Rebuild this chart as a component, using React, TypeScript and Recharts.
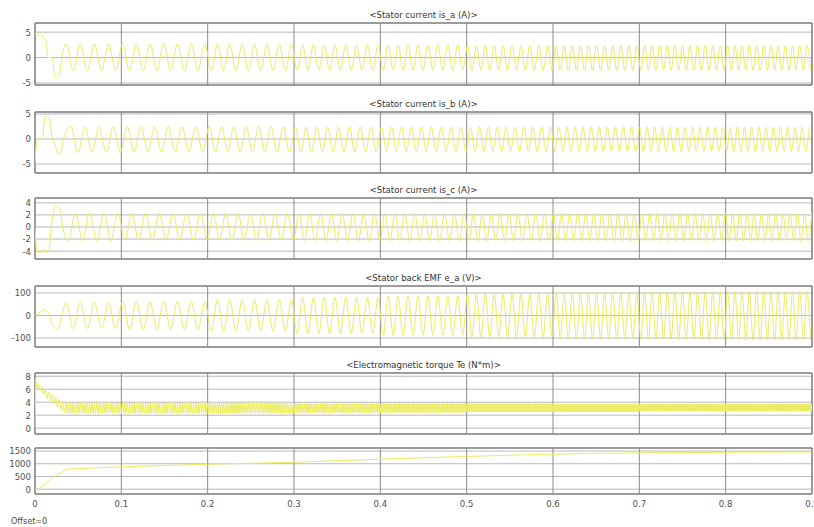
import { LineChart, Line, XAxis, YAxis, CartesianGrid, ReferenceLine, ReferenceArea } from 'recharts'

type Pt = { t: number; v: number }

// shared time axis
const timeTicks = [0, 0.1, 0.2, 0.3, 0.4, 0.5, 0.6, 0.7, 0.8, 0.9]

// after start-up the traces are regular; electrical frequency read per window
const windowEdges = [0.036, 0.1, 0.2, 0.3, 0.4, 0.5, 0.6, 0.7, 0.8, 0.9]
const elecHz = [61, 63, 70, 80, 87, 97, 107, 114, 120]

// peak heights per window (positive / negative)
const isaPos = [2.7, 2.7, 2.6, 2.5, 2.5, 2.4, 2.4, 2.4, 2.4]
const isaNeg = [2.6, 2.6, 2.6, 2.5, 2.5, 2.5, 2.5, 2.5, 2.5]
const isbPos = [2.5, 2.5, 2.5, 2.4, 2.4, 2.4, 2.4, 2.4, 2.4]
const isbNeg = [2.7, 2.6, 2.6, 2.6, 2.5, 2.5, 2.5, 2.5, 2.5]
const iscPos = [2.4, 2.3, 2.3, 2.3, 2.3, 2.3, 2.3, 2.3, 2.3]
const iscNeg = [2.3, 2.2, 2.2, 2.3, 2.3, 2.3, 2.3, 2.3, 2.3]
const emfAmp = [58, 62, 70, 80, 88, 96, 102, 106, 108]
const teHi = [3.9, 3.9, 3.9, 3.8, 3.8, 3.8, 3.7, 3.7, 3.7]
const teLo = [2.3, 2.3, 2.3, 2.4, 2.4, 2.5, 2.5, 2.6, 2.6]

// start-up transients (t < 0.036)
const isaStartT = [0, 0.002, 0.004, 0.006, 0.01, 0.013, 0.015, 0.02, 0.023, 0.025, 0.028, 0.031]
const isaStartV = [4.6, 5, 4.3, 4.6, 3.8, 3.2, 0, 0, -3.8, -4, -3.6, 0]
const isbStartT = [0, 0.002, 0.006, 0.009, 0.011, 0.014, 0.017, 0.02, 0.023, 0.027, 0.03, 0.033]
const isbStartV = [-5, -0.5, 0, 0.3, 4.2, 4.5, 4, 0, -1, -3, -2.8, 0]
const iscStartT = [0, 0.002, 0.006, 0.009, 0.013, 0.016, 0.019, 0.023, 0.026, 0.029, 0.032]
const iscStartV = [0, -4, -4.3, -3.7, -4.2, -4, 0, 3.4, 3.3, 3.0, 0]
const emfStartT = [0, 0.006, 0.012, 0.016, 0.02, 0.023, 0.027, 0.031]
const emfStartV = [0, 15, 25, 10, -40, -55, -57, 0]
const teStartT = [0, 0.0008, 0.002, 0.004, 0.006, 0.008, 0.01, 0.012, 0.014, 0.016, 0.018, 0.02, 0.022, 0.024, 0.026, 0.028, 0.03, 0.032, 0.034]
const teStartV = [0, 7.6, 6, 6.8, 5.8, 6.4, 5.2, 6.0, 4.6, 5.6, 4.2, 5.2, 3.8, 4.8, 3.2, 4.4, 2.7, 4.0, 2.4]

// rotor speed
const speedT = [0, 0.003, 0.02, 0.037, 0.1, 0.2, 0.3, 0.4, 0.5, 0.6, 0.7, 0.8, 0.9]
const speedV = [0, -40, 450, 790, 880, 980, 1060, 1180, 1290, 1380, 1430, 1450, 1460]

const zip = (ts: number[], vs: number[]): Pt[] => ts.map((t, i) => ({ t, v: vs[i] }))

// peaks/troughs of a trace; offset and step are in electrical cycles
function extremes(offset: number, step: number, hi: number[], lo: number[]): Pt[] {
  const out: Pt[] = []
  let th0 = 0
  for (let w = 0; w < elecHz.length; w++) {
    const t0 = windowEdges[w]
    const t1 = windowEdges[w + 1]
    const th1 = th0 + elecHz[w] * (t1 - t0)
    let k = Math.ceil((th0 - offset) / step - 1e-9)
    while (offset + k * step < th1) {
      const t = t0 + (offset + k * step - th0) / elecHz[w]
      const even = ((k % 2) + 2) % 2 === 0
      out.push({ t, v: even ? hi[w] : -lo[w] })
      k++
    }
    th0 = th1
  }
  return out
}

const isA = [...zip(isaStartT, isaStartV), ...extremes(0, 0.5, isaPos, isaNeg)]
const isB = [...zip(isbStartT, isbStartV), ...extremes(1 / 3, 0.5, isbPos, isbNeg)]
const isC = [...zip(iscStartT, iscStartV), ...extremes(2 / 3, 0.5, iscPos, iscNeg)]
const emfA = [...zip(emfStartT, emfStartV), ...extremes(0, 0.5, emfAmp, emfAmp)]
const teRaw = extremes(0, 1 / 12, teHi, teLo).map((p) => ({ t: p.t, v: p.v < 0 ? -p.v : p.v }))
const torque = [...zip(teStartT, teStartV), ...teRaw]
const speed = zip(speedT, speedV)

const FONT = '"DejaVu Sans Condensed", "DejaVu Sans", sans-serif'
const TRACE = '#ecec5e'
const PAD = 7

interface ScopeProps {
  top: number
  height: number
  title?: string
  domain: [number, number]
  ticks: number[]
  data: Pt[]
  smooth?: boolean
  showTime?: boolean
}

function Scope({ top, height, title, domain, ticks, data, smooth, showTime }: ScopeProps) {
  const h = height + PAD + (showTime ? 20 : PAD)
  const tickStyle = { fontSize: 9.5, fill: '#505050', fontFamily: FONT }
  return (
    <>
      {title && (
        <div
          style={{
            position: 'absolute',
            left: 35,
            width: 777,
            top: top - 14,
            textAlign: 'center',
            fontFamily: FONT,
            fontSize: 9.5,
            lineHeight: '12px',
            color: '#333',
          }}
        >
          {title}
        </div>
      )}
      <div style={{ position: 'absolute', left: 0, top: top - PAD, width: 814, height: h }}>
        <LineChart width={814} height={h} margin={{ top: PAD, right: 2, bottom: showTime ? 0 : PAD, left: 5 }}>
          <XAxis
            dataKey="t"
            type="number"
            domain={[0, 0.9]}
            ticks={timeTicks}
            interval={0}
            hide={!showTime}
            height={20}
            axisLine={false}
            tickLine={false}
            tickSize={0}
            tickMargin={6}
            tick={tickStyle}
            allowDataOverflow
          />
          <YAxis
            type="number"
            domain={domain}
            ticks={ticks}
            interval={0}
            width={30}
            axisLine={false}
            tickLine={false}
            tickSize={0}
            tickMargin={4}
            tick={tickStyle}
            allowDataOverflow
          />
          <CartesianGrid vertical={false} stroke="#b8b8b8" />
          {timeTicks.map((t) => (
            <ReferenceLine key={t} x={t} stroke="#8a8a8a" />
          ))}
          <Line
            data={data}
            dataKey="v"
            type={smooth ? 'monotone' : 'linear'}
            stroke={TRACE}
            strokeWidth={1}
            dot={false}
            activeDot={false}
            isAnimationActive={false}
          />
          <ReferenceArea x1={0} x2={0.9} y1={domain[0]} y2={domain[1]} fill="none" stroke="#5c5c5c" />
        </LineChart>
      </div>
    </>
  )
}

export default function App() {
  return (
    <div style={{ position: 'absolute', left: 0, top: 0, width: 814, height: 527, background: '#fff' }}>
      <Scope top={23} height={62} title="<Stator current is_a (A)>" domain={[-5.4, 6.8]} ticks={[-5, 0, 5]} data={isA} smooth />
      <Scope top={112} height={61} title="<Stator current is_b (A)>" domain={[-6.8, 5.4]} ticks={[-5, 0, 5]} data={isB} smooth />
      <Scope top={198} height={61} title="<Stator current is_c (A)>" domain={[-5.3, 4.8]} ticks={[-4, -2, 0, 2, 4]} data={isC} smooth />
      <Scope top={286} height={61} title="<Stator back EMF e_a (V)>" domain={[-140, 131]} ticks={[-100, 0, 100]} data={emfA} smooth />
      <Scope top={373} height={61} title="<Electromagnetic torque Te (N*m)>" domain={[-0.9, 8.5]} ticks={[0, 2, 4, 6, 8]} data={torque} />
      <Scope top={448} height={46} domain={[-190, 1620]} ticks={[0, 500, 1000, 1500]} data={speed} showTime />
      <div
        style={{
          position: 'absolute',
          left: 11,
          top: 516,
          fontFamily: FONT,
          fontSize: 9,
          color: '#4a4a4a',
        }}
      >
        Offset=0
      </div>
    </div>
  )
}
